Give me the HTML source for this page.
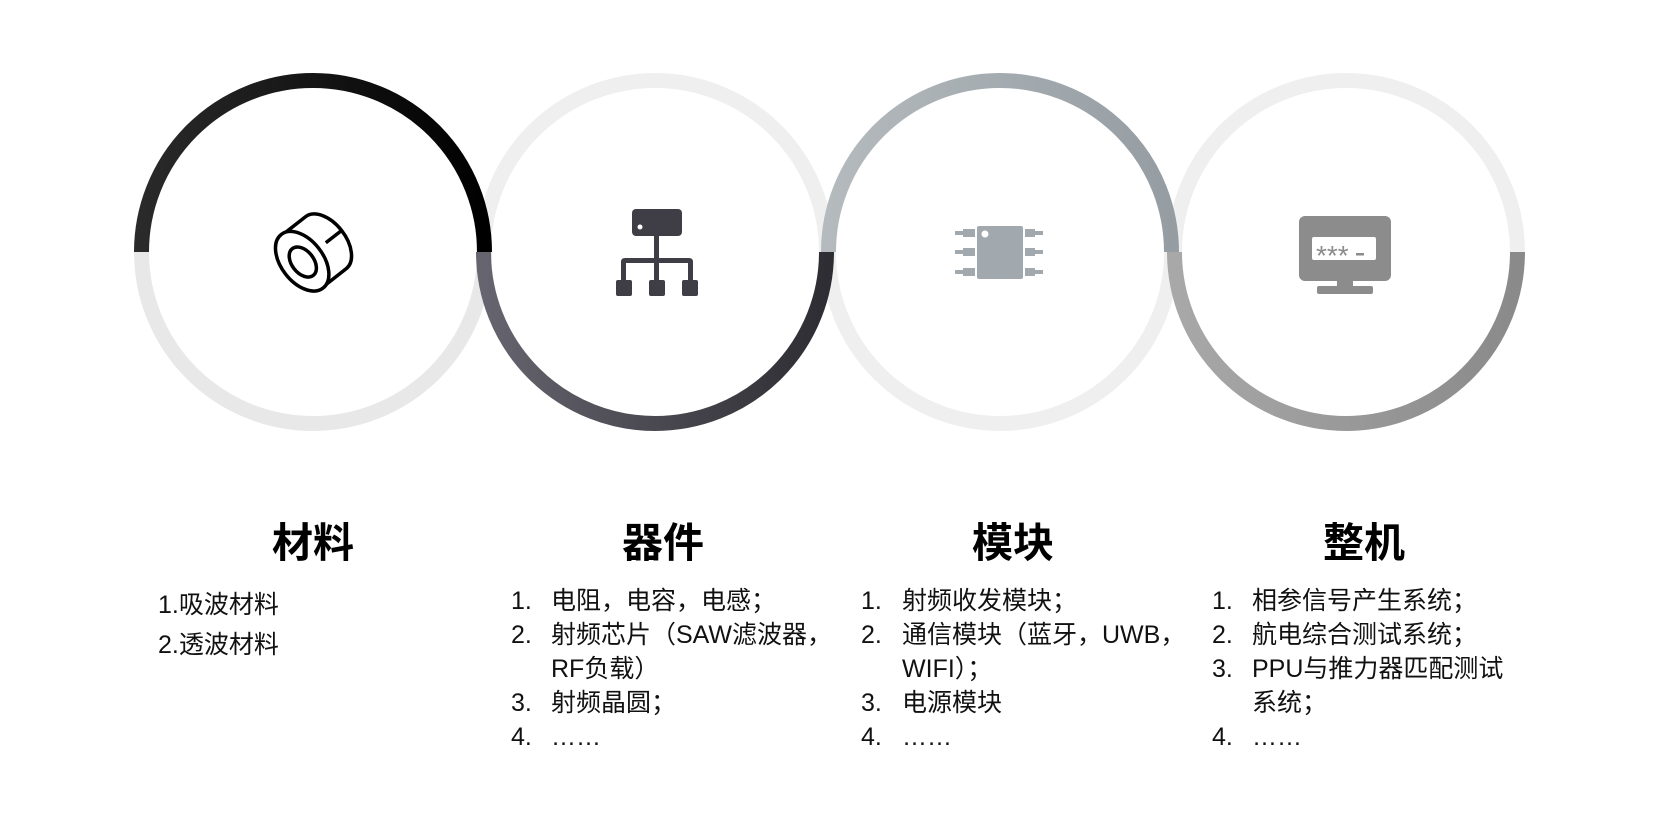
<!DOCTYPE html>
<html><head><meta charset="utf-8"><style>
html,body{margin:0;padding:0;background:#fff;}
body{width:1678px;height:824px;position:relative;overflow:hidden;font-family:"Liberation Sans","Noto Sans CJK SC",sans-serif;color:#111;}
.t{position:absolute;font-weight:bold;font-size:41px;line-height:50px;height:50px;text-align:center;width:300px;color:#000;}
.l{position:absolute;font-size:25px;line-height:34px;white-space:nowrap;}
</style></head><body>
<svg width="1678" height="824" style="position:absolute;left:0;top:0">
<defs>
<linearGradient id="g1" x1="0" y1="0" x2="1" y2="0"><stop offset="0" stop-color="#2a2a2a"/><stop offset="1" stop-color="#000"/></linearGradient>
<linearGradient id="g2" x1="0" y1="0" x2="1" y2="0"><stop offset="0" stop-color="#66646e"/><stop offset="1" stop-color="#2e2d33"/></linearGradient>
<linearGradient id="g3" x1="0" y1="0" x2="1" y2="0"><stop offset="0" stop-color="#b4babd"/><stop offset="1" stop-color="#959da3"/></linearGradient>
<linearGradient id="g4" x1="0" y1="0" x2="1" y2="0"><stop offset="0" stop-color="#a8a8a8"/><stop offset="1" stop-color="#8a8a8a"/></linearGradient>
</defs>
<g fill="none" stroke-width="15">
<path d="M141.5 252 A171.5 171.5 0 0 0 484.5 252" stroke="#e8e8e8"/>
<path d="M483.5 252 A171.5 171.5 0 0 1 826.5 252" stroke="#efefef"/>
<path d="M828.5 252 A171.5 171.5 0 0 0 1171.5 252" stroke="#efefef"/>
<path d="M1174.5 252 A171.5 171.5 0 0 1 1517.5 252" stroke="#efefef"/>
<path d="M141.5 252 A171.5 171.5 0 0 1 484.5 252" stroke="url(#g1)"/>
<path d="M483.5 252 A171.5 171.5 0 0 0 826.5 252" stroke="url(#g2)"/>
<path d="M828.5 252 A171.5 171.5 0 0 1 1171.5 252" stroke="url(#g3)"/>
<path d="M1174.5 252 A171.5 171.5 0 0 0 1517.5 252" stroke="url(#g4)"/>
</g>
<g fill="#fff" stroke="#000" stroke-width="3.5" transform="translate(314 252) rotate(-38)">
<path d="M-15 -33 L15 -33 A20 33 0 0 1 15 33 L-15 33 Z"/>
<line x1="15" y1="0" x2="35" y2="0"/>
<ellipse cx="-15" cy="0" rx="21" ry="34"/>
<ellipse cx="-15" cy="1" rx="11" ry="17"/>
</g>
<g fill="#3f3e46">
<rect x="632" y="209" width="50" height="27" rx="4"/>
<rect x="654" y="236" width="5" height="45"/>
<path d="M621 281 V262 Q621 258 625 258 H689 Q693 258 693 262 V281 H688 V263 H626 V281 Z"/>
<rect x="616" y="280" width="16" height="16" rx="2"/>
<rect x="649" y="280" width="16" height="16" rx="2"/>
<rect x="682" y="280" width="16" height="16" rx="2"/>
</g>
<circle cx="640" cy="227" r="2.5" fill="#fff"/>
<g fill="#a2a9ae">
<rect x="977" y="226" width="46" height="53" rx="2"/>
<rect x="963" y="229" width="12" height="8"/><rect x="955" y="231" width="8" height="4"/>
<rect x="963" y="248" width="12" height="8"/><rect x="955" y="250" width="8" height="4"/>
<rect x="963" y="268" width="12" height="8"/><rect x="955" y="270" width="8" height="4"/>
<rect x="1025" y="229" width="10" height="8"/><rect x="1035" y="231" width="8" height="4"/>
<rect x="1025" y="248" width="10" height="8"/><rect x="1035" y="250" width="8" height="4"/>
<rect x="1025" y="268" width="10" height="8"/><rect x="1035" y="270" width="8" height="4"/>
</g>
<circle cx="985" cy="234" r="3.5" fill="#fff"/>
<g fill="#8c8c8c">
<rect x="1299" y="216" width="92" height="65" rx="6"/>
<rect x="1337" y="280" width="16" height="8"/>
<rect x="1317" y="286" width="56" height="8" rx="2"/>
</g>
<rect x="1312" y="237" width="64" height="23" rx="2" fill="#fff"/>
<text x="1316" y="265" font-family="Liberation Sans, sans-serif" font-size="28" fill="#8c8c8c">***</text>
<rect x="1356" y="253" width="8" height="2.5" fill="#8c8c8c"/>
</svg>

<div class="t" style="left:163px;top:518px">材料</div>
<div class="t" style="left:513px;top:518px">器件</div>
<div class="t" style="left:863px;top:518px">模块</div>
<div class="t" style="left:1214px;top:518px">整机</div>

<div class="l" style="left:158px;top:588px">1.吸波材料</div>
<div class="l" style="left:158px;top:628px">2.透波材料</div>

<div class="l" style="left:511px;top:584px">1.</div><div class="l" style="left:551px;top:584px">电阻，电容，电感；</div>
<div class="l" style="left:511px;top:618px">2.</div><div class="l" style="left:551px;top:618px">射频芯片（SAW滤波器，</div>
<div class="l" style="left:551px;top:652px">RF负载）</div>
<div class="l" style="left:511px;top:686px">3.</div><div class="l" style="left:551px;top:686px">射频晶圆；</div>
<div class="l" style="left:511px;top:720px">4.</div><div class="l" style="left:551px;top:720px">……</div>

<div class="l" style="left:861px;top:584px">1.</div><div class="l" style="left:902px;top:584px">射频收发模块；</div>
<div class="l" style="left:861px;top:618px">2.</div><div class="l" style="left:902px;top:618px">通信模块（蓝牙，UWB，</div>
<div class="l" style="left:902px;top:652px">WIFI）；</div>
<div class="l" style="left:861px;top:686px">3.</div><div class="l" style="left:902px;top:686px">电源模块</div>
<div class="l" style="left:861px;top:720px">4.</div><div class="l" style="left:902px;top:720px">……</div>

<div class="l" style="left:1212px;top:584px">1.</div><div class="l" style="left:1252px;top:584px">相参信号产生系统；</div>
<div class="l" style="left:1212px;top:618px">2.</div><div class="l" style="left:1252px;top:618px">航电综合测试系统；</div>
<div class="l" style="left:1212px;top:652px">3.</div><div class="l" style="left:1252px;top:652px">PPU与推力器匹配测试</div>
<div class="l" style="left:1252px;top:686px">系统；</div>
<div class="l" style="left:1212px;top:720px">4.</div><div class="l" style="left:1252px;top:720px">……</div>
</body></html>
